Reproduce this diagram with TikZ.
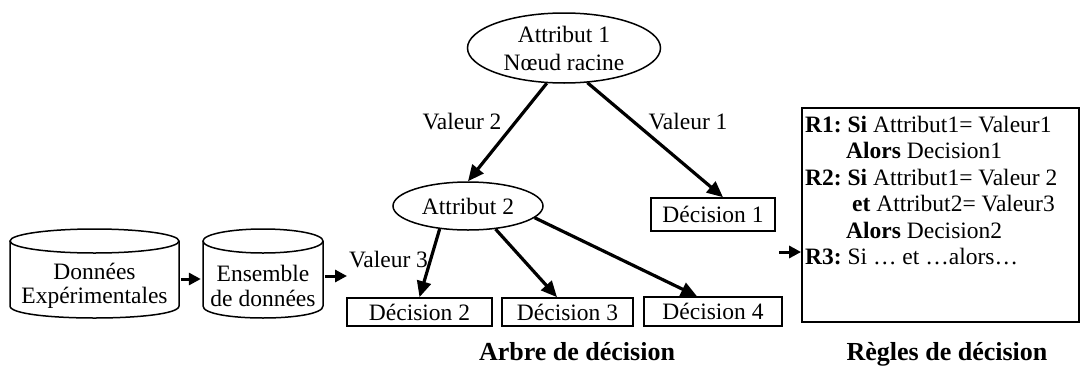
\documentclass[tikz,border=0pt]{standalone}
\usepackage{fontspec}
\setmainfont{Liberation Serif}
\usetikzlibrary{arrows.meta,shapes.geometric}
\tikzset{
  arr/.style={line width=3.2pt,-{Triangle[length=16pt,width=14pt]}},
  sarr/.style={line width=3pt,-{Triangle[length=12pt,width=12pt]}},
  decbox/.style={draw,line width=1.6pt,inner sep=0pt},
  ell/.style={ellipse,draw,line width=1.5pt,inner sep=0pt},
  cyl/.style={line width=1.5pt},
  cyltext/.style={align=center,inner sep=0pt,font=\fontsize{23.5}{24.5}\selectfont},
  lbl/.style={inner sep=0pt},
  title/.style={font=\fontsize{26}{30}\selectfont\bfseries,anchor=base}
}
\begin{document}
\frenchspacing
\begin{tikzpicture}[x=1pt,y=-1pt,font=\fontsize{23.5}{26.4}\selectfont\frenchspacing]
\useasboundingbox (0,0) rectangle (1081,367);
% cylinders
\draw[cyl] (94.5,241) ellipse [x radius=84.5pt, y radius=12pt];
\draw[cyl] (10,241) -- (10,306) .. controls (10,322) and (179,322) .. (179,306) -- (179,241);
\draw[cyl] (263,241) ellipse [x radius=60pt, y radius=12pt];
\draw[cyl] (203,241) -- (203,306) .. controls (203,322) and (323,322) .. (323,306) -- (323,241);
\node[cyltext,minimum width=169pt] (cylA) at (94.5,286) {Données\\Expérimentales};
\node[cyltext,minimum width=120pt] (cylB) at (263,286) {Ensemble\\de données};
% tree nodes
\node[ell,minimum width=193pt,minimum height=70pt,align=center,font=\fontsize{23.5}{28}\selectfont] (root) at (564,48) {Attribut 1\\Nœud racine};
\node[ell,minimum width=150pt,minimum height=48pt] (attr2) at (468,206) {Attribut 2};
\node[decbox,minimum width=124pt,minimum height=33pt] (d1) at (713,214.5) {Décision 1};
\node[decbox,minimum width=145pt,minimum height=28pt] (d2) at (419.5,312) {Décision 2};
\node[decbox,minimum width=131pt,minimum height=28pt] (d3) at (567.5,312) {Décision 3};
\node[decbox,minimum width=138pt,minimum height=29pt] (d4) at (713,311.5) {Décision 4};
% rules box
\node[draw,line width=1.8pt,minimum width=277pt,minimum height=214pt,inner sep=0pt] (rules) at (940.5,215) {};
\node[anchor=north west,align=left,inner sep=0pt] (rtext) at (805,116) {\frenchspacing
\textbf{R1: Si} Attribut1= Valeur1\\
\hspace*{41pt}\textbf{Alors} Decision1\\
\textbf{R2: Si} Attribut1= Valeur 2\\
\hspace*{47pt}\textbf{et} Attribut2= Valeur3\\
\hspace*{41pt}\textbf{Alors} Decision2\\
\textbf{R3:} Si … et …alors…};
% labels
\node[lbl] (v2) at (462,122) {Valeur 2};
\node[lbl] (v1) at (688,122) {Valeur 1};
\node[lbl] (v3) at (388.5,260) {Valeur 3};
\node[title] (t1) at (577,360) {Arbre de décision};
\node[title] (t2) at (947,360) {Règles de décision};
% connectors
\draw[arr] (root.244) -- (attr2.north);
\draw[arr] (root.304) -- ([xshift=10pt]d1.north);
\draw[arr] (attr2.219) -- (d2.north);
\draw[arr] (attr2.320) -- ([xshift=-10.5pt]d3.north);
\draw[arr] (attr2.350) -- ([xshift=-16pt]d4.north);
\coordinate (a1) at (0,279);
\coordinate (v3in) at (347,276);
\coordinate (rin) at (779,252);
\draw[sarr,shorten <=2pt,shorten >=2pt] (cylA.east |- a1) -- (cylB.west |- a1);
\draw[sarr,shorten <=2pt] (cylB.east |- v3in) -- (v3in);
\draw[sarr] (rin) -- (rules.west |- rin);
\end{tikzpicture}
\end{document}
